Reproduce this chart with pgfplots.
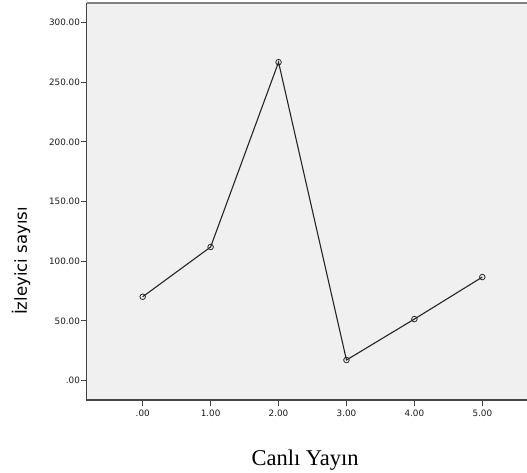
\documentclass[border=0pt]{standalone}
\usepackage{fontspec}
\setmainfont{Liberation Serif}
\newfontfamily\dejavu{DejaVu Sans}
\usepackage{pgfplots}
\pgfplotsset{compat=1.18}
\definecolor{bg}{HTML}{F0F0F0}
\definecolor{axc}{HTML}{454545}
\begin{document}
\begin{tikzpicture}
\begin{axis}[name=ax, scale only axis, width=440.3pt, height=397pt,
  xmin=-0.8245, xmax=5.658, ymin=-16.3, ymax=316.3,
  axis background/.style={fill=bg},
  axis line style={draw=none},
  xtick={0,...,5}, xticklabels={.00,1.00,2.00,3.00,4.00,5.00},
  ytick={0,50,...,300}, yticklabels={.00,50.00,100.00,150.00,200.00,250.00,300.00},
  tick align=outside, tick pos=left, major tick length=6pt,
  tick style={axc, line width=1.1pt},
  ticklabel style={font=\dejavu\fontsize{8.8}{11}\selectfont, text=black!90},
  yticklabel style={inner xsep=0.6pt},
  xlabel={Canlı Yayın},
  xlabel style={font=\fontsize{22.5}{26}\selectfont, at={(axis description cs:0.496,-0.166)}, anchor=base},
  ylabel={İzleyici sayısı},
  ylabel style={font=\dejavu\fontsize{16.5}{19}\selectfont, at={(axis description cs:-0.149,0.35)}, anchor=center},
]
\addplot[color=black!85, line width=1.1pt, mark=o, mark size=2.8pt, mark options={line width=0.8pt}]
  coordinates {(0,70.2)(1,111.9)(2,266.7)(3,17.2)(4,51.5)(5,86.7)};
\end{axis}
\draw[axc, line width=1.3pt] (ax.north west) -- (ax.south west) -- (ax.south east);
\draw[black!50, line width=1.6pt] (ax.north west) -- (ax.north east);
\pgfresetboundingbox
\path ([shift={(-86.7pt,-72pt)}]ax.south west) rectangle ([shift={(0pt,3pt)}]ax.north east);
\end{tikzpicture}
\end{document}
